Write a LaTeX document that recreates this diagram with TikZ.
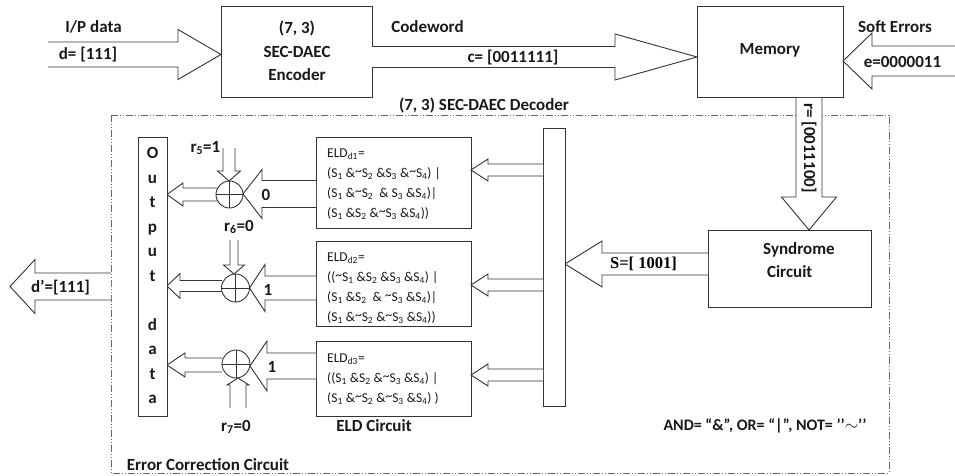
\documentclass[tikz,border=0pt]{standalone}
\usepackage{fontspec}
\setmainfont{Carlito}
\newfontfamily\serifbold{Liberation Serif}
\newcommand\Sx[1]{S\textsubscript{#1}}
\newcommand\Nx[1]{\raisebox{0.18em}{\textasciitilde}S\textsubscript{#1}}
\newcommand\HArr[6]{\filldraw[blk] (#1,{#4-#5}) -- (#2,{#4-#5}) -- (#2,{#4-#6}) -- (#3,#4) -- (#2,{#4+#6}) -- (#2,{#4+#5}) -- (#1,{#4+#5});}
\newcommand\VArr[6]{\filldraw[blk] ({#4-#5},#1) -- ({#4-#5},#2) -- ({#4-#6},#2) -- (#4,#3) -- ({#4+#6},#2) -- ({#4+#5},#2) -- ({#4+#5},#1);}
\begin{document}
\begin{tikzpicture}[x=1pt,y=-1pt,
  line join=miter,
  blk/.style={draw=black!80, line width=0.9pt, fill=white},
  box/.style={draw=black!80, line width=1pt, fill=white, inner sep=0pt},
  lbl/.style={font=\fontsize{17}{23.5}\selectfont\bfseries, inner sep=0pt, text=black!90},
  eld/.style={font=\fontsize{13.5}{20}\selectfont, inner sep=0pt, align=left, anchor=north west, text=black!90},
  dd/.style={draw=black!60, line width=0.8pt, dash pattern=on 7pt off 2pt on 1pt off 2pt on 1pt off 2pt}]
\useasboundingbox (0,0) rectangle (955,476);

% decoder frame
\draw[dd] (111,115) rectangle (889,473);
\node[lbl] (declbl) at (484,105) {(7,\ 3)\ SEC-DAEC Decoder};
\node[lbl] (eccl) at (208,465) {Error Correction Circuit};

% top row boxes
\node[box, minimum width=151pt, minimum height=91pt] (enc) at (296.5,52.5) {};
\node[lbl, align=center] (enct) at (297,51) {(7, 3)\\SEC-DAEC\\Encoder};
\node[box, minimum width=146pt, minimum height=91pt] (mem) at (770,52.5) {};
\node[lbl] (memt) at (770,50) {Memory};

% input arrow
\HArr{48}{178}{221}{54.5}{12.5}{25}
\node[lbl] (ipd) at (93.5,27) {I/P data};
\node[lbl] (dval) at (88,55) {d= [111]};

% codeword arrow
\HArr{372}{615}{697}{57}{10.5}{23}
\node[lbl] (cw) at (427.5,27) {Codeword};
\node[lbl] (cval) at (513,58) {c= [0011111]};

% soft errors
\HArr{956}{872}{843}{61}{15}{28}
\node[lbl] (se) at (895,27) {Soft Errors};
\node[lbl] (eval) at (902.5,62) {e=0000011};

% r arrow
\VArr{98}{197}{230}{809}{13}{27.5}
\node[lbl, rotate=-90] (rval) at (809,148) {r= [0011100]};

% syndrome
\node[box, minimum width=163pt, minimum height=77pt] (syn) at (789.5,268.5) {};
\node[lbl, align=left, anchor=west] (synt) at (763,260) {Syndrome\\\ Circuit};

% S arrow
\HArr{708}{602}{565}{264}{11}{23}
\node[font=\serifbold\fontsize{16.5}{20}\selectfont\bfseries, inner sep=0pt] (sval) at (643.5,264) {S=[ 1001]};

% bus bar
\node[box, minimum width=22pt, minimum height=277pt] (bus) at (554,267.5) {};

% ELD boxes
\node[box, minimum width=155pt, minimum height=91pt] (eld1) at (393.5,182.5) {};
\node[box, minimum width=155pt, minimum height=85pt] (eld2) at (393.5,283.5) {};
\node[box, minimum width=155pt, minimum height=75pt] (eld3) at (393.5,378.5) {};

\node[eld] (eld1t) at (327,147.5) {\rule{0pt}{10pt}ELD\textsubscript{d1}=\\
(\Sx1 \&\Nx2 \&\Sx3 \&\Nx4) |\\
(\Sx1 \&\Nx2\ \ \& \Sx3 \&\Sx4)|\\
(\Sx1 \&\Sx2 \&\Nx3 \&\Sx4))};
\node[eld] (eld2t) at (327,251.5) {\rule{0pt}{10pt}ELD\textsubscript{d2}=\\
((\Nx1 \&\Sx2 \&\Sx3 \&\Sx4) |\\
(\Sx1 \&\Sx2\ \ \& \Nx3 \&\Sx4)|\\
(\Sx1 \&\Nx2 \&\Nx3 \&\Sx4))};
\node[eld] (eld3t) at (327,352.5) {\rule{0pt}{10pt}ELD\textsubscript{d3}=\\
((\Sx1 \&\Sx2 \&\Nx3 \&\Sx4) |\\
(\Sx1 \&\Nx2 \&\Nx3 \&\Sx4) )};
\node[lbl] (eldc) at (374,426) {ELD Circuit};

% bus -> ELD arrows
\HArr{543}{488}{471}{170}{6}{11}
\HArr{543}{488}{471}{285}{6}{11}
\HArr{543}{488}{471}{375}{6}{11}

% ELD -> XOR arrows
\HArr{316}{262}{243}{194}{13.5}{24.5}
\HArr{316}{265}{249.5}{288}{12}{23.5}
\HArr{316}{267}{250}{366}{13}{25}
\node[lbl] (v1) at (266,195) {0};
\node[lbl] (v2) at (268,290) {1};
\node[lbl] (v3) at (272,367) {1};

% r inputs
\VArr{148}{171}{181}{229}{6}{11.5}
\VArr{240}{265}{274}{234}{4}{10.5}
\VArr{408}{385}{378}{238}{8}{11}
\node[lbl] (r5) at (205.5,148) {r\textsubscript{5}=1};
\node[lbl] (r6) at (239,227) {r\textsubscript{6}=0};
\node[lbl] (r7) at (236,427) {r\textsubscript{7}=0};

% XOR -> output arrows
\HArr{217}{183}{167}{194.5}{6.5}{11.5}
\HArr{222}{180}{167}{286}{5.5}{12.5}
\HArr{222}{185}{167}{365}{7}{12}

% XOR circles
\foreach \n/\cx/\cy/\rr in {x1/229.5/194.5/13.5, x2/235.5/288/14, x3/236/364/14}{
  \node[draw=black!80, line width=0.9pt, fill=white, circle, minimum size=2*\rr pt, inner sep=0pt] (\n) at (\cx,\cy) {};
  \draw[black!80, line width=0.9pt] (\n.north) -- (\n.south) (\n.west) -- (\n.east);
}

% output data box
\node[box, minimum width=29pt, minimum height=279pt] (outb) at (152.5,276.5) {};
\node[lbl, font=\fontsize{17}{24.5}\selectfont\bfseries, align=center, anchor=north] (outt) at (152.5,147.5)
  {O\\u\\t\\p\\u\\t\\\mbox{}\\d\\a\\t\\a};

% d' arrow
\HArr{111}{35}{10}{286.5}{13.5}{27}
\node[lbl] (dout) at (60.5,288) {d’=[111]};

% legend
\node[lbl, font=\fontsize{16}{20}\selectfont\bfseries] (leg) at (765,426) {AND= “\&”, OR= “|”, NOT= \symbol{39}\symbol{39}$\sim$\symbol{39}\symbol{39}};
\end{tikzpicture}
\end{document}
